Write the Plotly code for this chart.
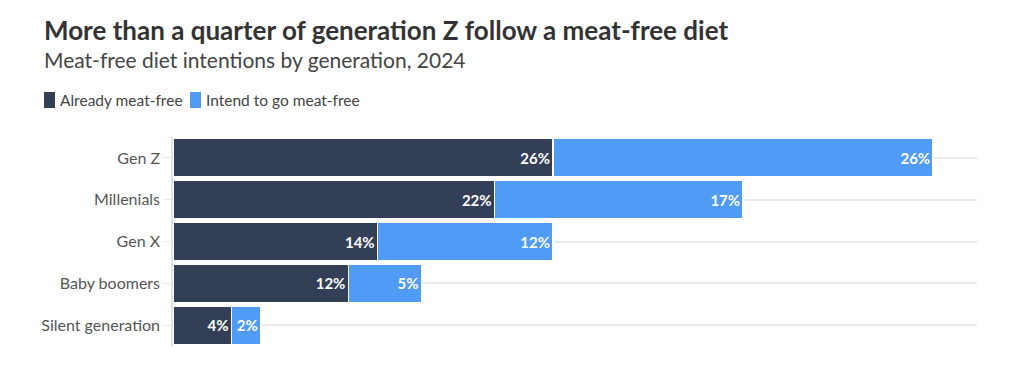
import plotly.graph_objects as go

categories = ["Gen Z", "Millenials", "Gen X", "Baby boomers", "Silent generation"]
already = [26, 22, 14, 12, 4]
intend = [26, 17, 12, 5, 2]
series_names = ["Already meat-free", "Intend to go meat-free"]

DARK = "#333f56"
BLUE = "#509bf5"
COLORS = [DARK, BLUE]
FONT = "Lato, 'Source Sans Pro', sans-serif"

OFF = 8  # page body margin
W, H = 1024 - 2 * OFF, 380 - 2 * OFF
L, R, T, B = 173 - OFF, 47 - OFF, 137 - OFF, 34 - OFF
pw, ph = W - L - R, H - T - B

def px_x(x):
    return (x - OFF - L) / pw

def px_y(y):
    return (H - B - (y - OFF)) / ph

fig = go.Figure()
for name, vals, col in zip(series_names, [already, intend], COLORS):
    fig.add_trace(go.Bar(
        y=categories, x=vals, name=name, orientation="h",
        marker=dict(color=col, line=dict(color="white", width=1.5)),
        texttemplate="%{x}%", textposition="inside", insidetextanchor="end",
        textangle=0,
        textfont=dict(color="white", size=15, family=FONT, weight="bold"),
        hoverinfo="skip",
    ))

shapes = []
annotations = [
    dict(text="<b>More than a quarter of generation Z follow a meat-free diet</b>",
         xref="paper", yref="paper", x=px_x(42), y=px_y(30), xanchor="left", yanchor="middle",
         showarrow=False, font=dict(size=26, color="#333333", family=FONT)),
    dict(text="Meat-free diet intentions by generation, 2024",
         xref="paper", yref="paper", x=px_x(42), y=px_y(60), xanchor="left", yanchor="middle",
         showarrow=False, font=dict(size=21, color="#444444", family=FONT)),
]
# legend drawn manually
leg_x = [44, 190]
for lx, name, col in zip(leg_x, series_names, COLORS):
    shapes.append(dict(type="rect", xref="paper", yref="paper",
                       x0=px_x(lx), x1=px_x(lx + 11), y0=px_y(108), y1=px_y(92),
                       fillcolor=col, line=dict(width=0)))
    annotations.append(dict(text=name, xref="paper", yref="paper",
                            x=px_x(lx + 14), y=px_y(100), xanchor="left", yanchor="middle",
                            showarrow=False, font=dict(size=15.5, color="#444444", family=FONT)))

fig.update_layout(
    width=W, height=H, barmode="stack", bargap=0.08,
    margin=dict(l=L, r=R, t=T, b=B, autoexpand=False),
    plot_bgcolor="white", paper_bgcolor="white",
    font=dict(family=FONT, color="#555555"),
    uniformtext=dict(minsize=15, mode="show"),
    showlegend=False,
    xaxis=dict(range=[0, 55], showgrid=False, showticklabels=False, zeroline=False,
               fixedrange=True),
    yaxis=dict(categoryorder="array", categoryarray=categories, autorange="reversed",
               showgrid=True, gridcolor="#ebebeb", gridwidth=1.5,
               showline=True, linecolor="#e3e3e3", linewidth=1.5,
               ticks="outside", ticklen=8, tickcolor="#ebebeb",
               tickfont=dict(size=16, color="#555555", family=FONT)),
    shapes=shapes,
    annotations=annotations,
)

fig.write_html("out.html")
